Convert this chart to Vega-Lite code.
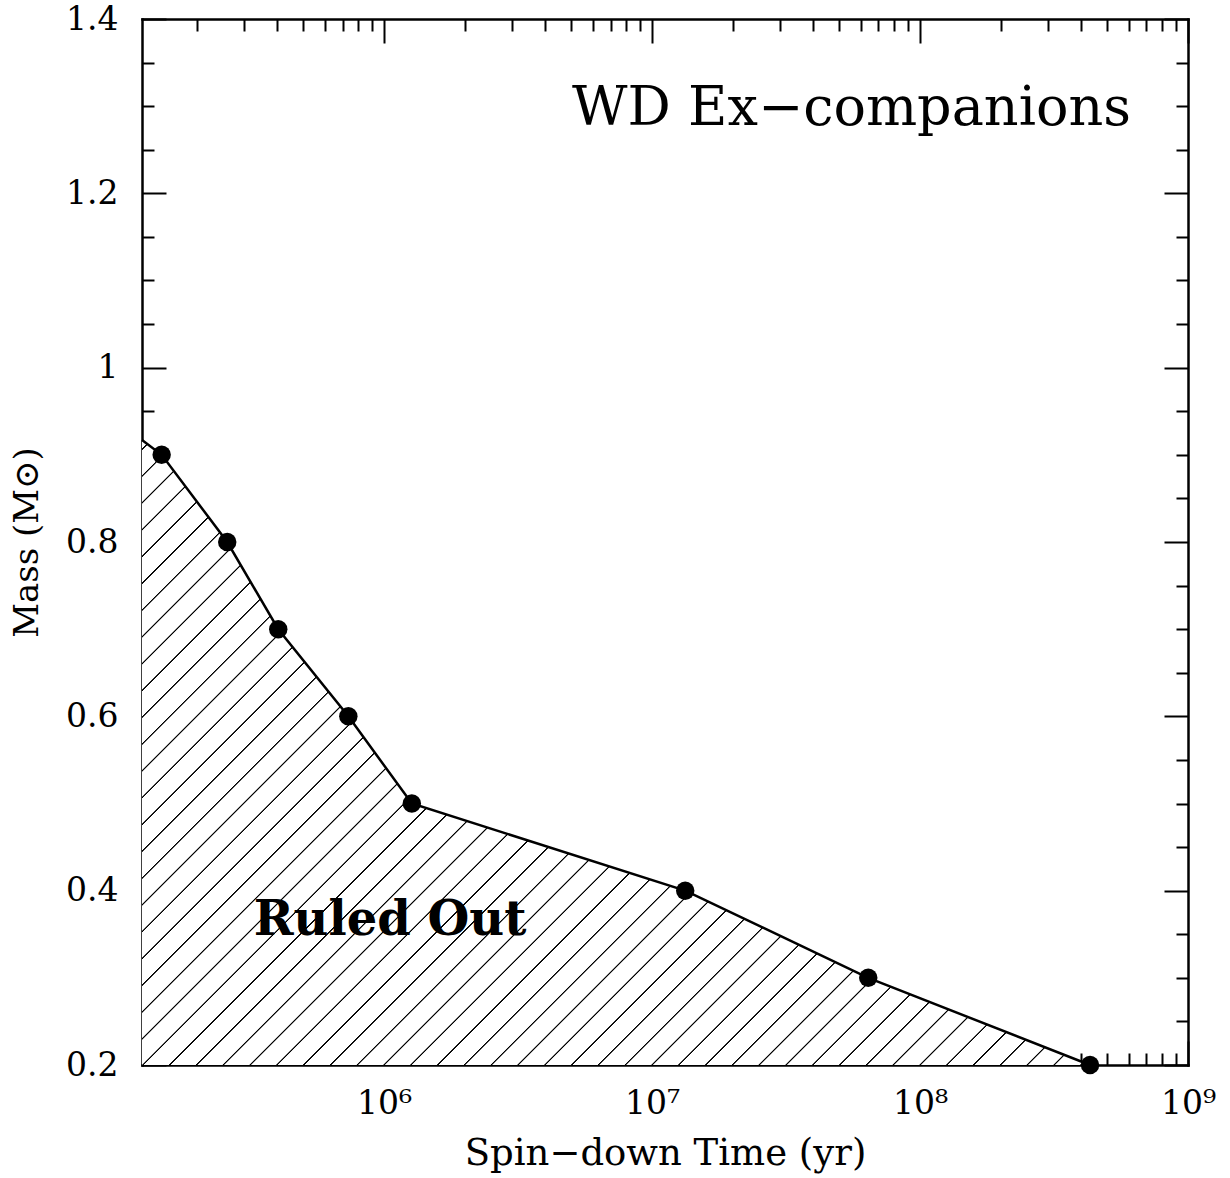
{
  "$schema": "https://vega.github.io/schema/vega-lite/v6.json",
  "autosize": {"type": "none"},
  "padding": {"left": 142, "top": 19, "right": 42, "bottom": 113},
  "width": 1046,
  "height": 1046,
  "background": "white",
  "datasets": {
    "curve": [
      {"time": 125000, "mass": 0.917, "edge": true},
      {"time": 148000, "mass": 0.9, "edge": false},
      {"time": 260000, "mass": 0.8, "edge": false},
      {"time": 403000, "mass": 0.7, "edge": false},
      {"time": 736000, "mass": 0.6, "edge": false},
      {"time": 1270000, "mass": 0.5, "edge": false},
      {"time": 13300000, "mass": 0.4, "edge": false},
      {"time": 64100000, "mass": 0.3, "edge": false},
      {"time": 431000000, "mass": 0.2, "edge": false}
    ]
  },
  "layer": [
    {
      "data": {"name": "curve"},
      "mark": {
        "type": "area",
        "fill": {
          "gradient": "linear",
          "x1": 0, "y1": 0, "x2": 1.1566, "y2": 0.76245,
          "stops": [
            {"offset":0.0052,"color":"#fff"},{"offset":0.0057,"color":"#000"},{"offset":0.0063,"color":"#000"},{"offset":0.0068,"color":"#fff"},
            {"offset":0.0222,"color":"#fff"},{"offset":0.0227,"color":"#000"},{"offset":0.0233,"color":"#000"},{"offset":0.0238,"color":"#fff"},
            {"offset":0.0392,"color":"#fff"},{"offset":0.0397,"color":"#000"},{"offset":0.0403,"color":"#000"},{"offset":0.0408,"color":"#fff"},
            {"offset":0.0563,"color":"#fff"},{"offset":0.0568,"color":"#000"},{"offset":0.0574,"color":"#000"},{"offset":0.0579,"color":"#fff"},
            {"offset":0.0733,"color":"#fff"},{"offset":0.0738,"color":"#000"},{"offset":0.0744,"color":"#000"},{"offset":0.0749,"color":"#fff"},
            {"offset":0.0904,"color":"#fff"},{"offset":0.0909,"color":"#000"},{"offset":0.0915,"color":"#000"},{"offset":0.0920,"color":"#fff"},
            {"offset":0.1074,"color":"#fff"},{"offset":0.1079,"color":"#000"},{"offset":0.1085,"color":"#000"},{"offset":0.1090,"color":"#fff"},
            {"offset":0.1244,"color":"#fff"},{"offset":0.1249,"color":"#000"},{"offset":0.1255,"color":"#000"},{"offset":0.1260,"color":"#fff"},
            {"offset":0.1415,"color":"#fff"},{"offset":0.1420,"color":"#000"},{"offset":0.1426,"color":"#000"},{"offset":0.1431,"color":"#fff"},
            {"offset":0.1585,"color":"#fff"},{"offset":0.1590,"color":"#000"},{"offset":0.1596,"color":"#000"},{"offset":0.1601,"color":"#fff"},
            {"offset":0.1755,"color":"#fff"},{"offset":0.1760,"color":"#000"},{"offset":0.1766,"color":"#000"},{"offset":0.1771,"color":"#fff"},
            {"offset":0.1926,"color":"#fff"},{"offset":0.1931,"color":"#000"},{"offset":0.1937,"color":"#000"},{"offset":0.1942,"color":"#fff"},
            {"offset":0.2096,"color":"#fff"},{"offset":0.2101,"color":"#000"},{"offset":0.2107,"color":"#000"},{"offset":0.2112,"color":"#fff"},
            {"offset":0.2266,"color":"#fff"},{"offset":0.2271,"color":"#000"},{"offset":0.2277,"color":"#000"},{"offset":0.2282,"color":"#fff"},
            {"offset":0.2437,"color":"#fff"},{"offset":0.2442,"color":"#000"},{"offset":0.2448,"color":"#000"},{"offset":0.2453,"color":"#fff"},
            {"offset":0.2607,"color":"#fff"},{"offset":0.2612,"color":"#000"},{"offset":0.2618,"color":"#000"},{"offset":0.2623,"color":"#fff"},
            {"offset":0.2778,"color":"#fff"},{"offset":0.2783,"color":"#000"},{"offset":0.2789,"color":"#000"},{"offset":0.2794,"color":"#fff"},
            {"offset":0.2948,"color":"#fff"},{"offset":0.2953,"color":"#000"},{"offset":0.2959,"color":"#000"},{"offset":0.2964,"color":"#fff"},
            {"offset":0.3118,"color":"#fff"},{"offset":0.3123,"color":"#000"},{"offset":0.3129,"color":"#000"},{"offset":0.3134,"color":"#fff"},
            {"offset":0.3289,"color":"#fff"},{"offset":0.3294,"color":"#000"},{"offset":0.3300,"color":"#000"},{"offset":0.3305,"color":"#fff"},
            {"offset":0.3459,"color":"#fff"},{"offset":0.3464,"color":"#000"},{"offset":0.3470,"color":"#000"},{"offset":0.3475,"color":"#fff"},
            {"offset":0.3629,"color":"#fff"},{"offset":0.3634,"color":"#000"},{"offset":0.3640,"color":"#000"},{"offset":0.3645,"color":"#fff"},
            {"offset":0.3800,"color":"#fff"},{"offset":0.3805,"color":"#000"},{"offset":0.3811,"color":"#000"},{"offset":0.3816,"color":"#fff"},
            {"offset":0.3970,"color":"#fff"},{"offset":0.3975,"color":"#000"},{"offset":0.3981,"color":"#000"},{"offset":0.3986,"color":"#fff"},
            {"offset":0.4140,"color":"#fff"},{"offset":0.4145,"color":"#000"},{"offset":0.4151,"color":"#000"},{"offset":0.4156,"color":"#fff"},
            {"offset":0.4311,"color":"#fff"},{"offset":0.4316,"color":"#000"},{"offset":0.4322,"color":"#000"},{"offset":0.4327,"color":"#fff"},
            {"offset":0.4481,"color":"#fff"},{"offset":0.4486,"color":"#000"},{"offset":0.4492,"color":"#000"},{"offset":0.4497,"color":"#fff"},
            {"offset":0.4652,"color":"#fff"},{"offset":0.4657,"color":"#000"},{"offset":0.4663,"color":"#000"},{"offset":0.4668,"color":"#fff"},
            {"offset":0.4822,"color":"#fff"},{"offset":0.4827,"color":"#000"},{"offset":0.4833,"color":"#000"},{"offset":0.4838,"color":"#fff"},
            {"offset":0.4992,"color":"#fff"},{"offset":0.4997,"color":"#000"},{"offset":0.5003,"color":"#000"},{"offset":0.5008,"color":"#fff"},
            {"offset":0.5163,"color":"#fff"},{"offset":0.5168,"color":"#000"},{"offset":0.5174,"color":"#000"},{"offset":0.5179,"color":"#fff"},
            {"offset":0.5333,"color":"#fff"},{"offset":0.5338,"color":"#000"},{"offset":0.5344,"color":"#000"},{"offset":0.5349,"color":"#fff"},
            {"offset":0.5503,"color":"#fff"},{"offset":0.5508,"color":"#000"},{"offset":0.5514,"color":"#000"},{"offset":0.5519,"color":"#fff"},
            {"offset":0.5674,"color":"#fff"},{"offset":0.5679,"color":"#000"},{"offset":0.5685,"color":"#000"},{"offset":0.5690,"color":"#fff"},
            {"offset":0.5844,"color":"#fff"},{"offset":0.5849,"color":"#000"},{"offset":0.5855,"color":"#000"},{"offset":0.5860,"color":"#fff"},
            {"offset":0.6014,"color":"#fff"},{"offset":0.6019,"color":"#000"},{"offset":0.6025,"color":"#000"},{"offset":0.6030,"color":"#fff"},
            {"offset":0.6185,"color":"#fff"},{"offset":0.6190,"color":"#000"},{"offset":0.6196,"color":"#000"},{"offset":0.6201,"color":"#fff"},
            {"offset":0.6355,"color":"#fff"},{"offset":0.6360,"color":"#000"},{"offset":0.6366,"color":"#000"},{"offset":0.6371,"color":"#fff"},
            {"offset":0.6526,"color":"#fff"},{"offset":0.6531,"color":"#000"},{"offset":0.6537,"color":"#000"},{"offset":0.6542,"color":"#fff"},
            {"offset":0.6696,"color":"#fff"},{"offset":0.6701,"color":"#000"},{"offset":0.6707,"color":"#000"},{"offset":0.6712,"color":"#fff"},
            {"offset":0.6866,"color":"#fff"},{"offset":0.6871,"color":"#000"},{"offset":0.6877,"color":"#000"},{"offset":0.6882,"color":"#fff"},
            {"offset":0.7037,"color":"#fff"},{"offset":0.7042,"color":"#000"},{"offset":0.7048,"color":"#000"},{"offset":0.7053,"color":"#fff"},
            {"offset":0.7207,"color":"#fff"},{"offset":0.7212,"color":"#000"},{"offset":0.7218,"color":"#000"},{"offset":0.7223,"color":"#fff"},
            {"offset":0.7377,"color":"#fff"},{"offset":0.7382,"color":"#000"},{"offset":0.7388,"color":"#000"},{"offset":0.7393,"color":"#fff"},
            {"offset":0.7548,"color":"#fff"},{"offset":0.7553,"color":"#000"},{"offset":0.7559,"color":"#000"},{"offset":0.7564,"color":"#fff"},
            {"offset":0.7718,"color":"#fff"},{"offset":0.7723,"color":"#000"},{"offset":0.7729,"color":"#000"},{"offset":0.7734,"color":"#fff"},
            {"offset":0.7888,"color":"#fff"},{"offset":0.7893,"color":"#000"},{"offset":0.7899,"color":"#000"},{"offset":0.7904,"color":"#fff"},
            {"offset":0.8059,"color":"#fff"},{"offset":0.8064,"color":"#000"},{"offset":0.8070,"color":"#000"},{"offset":0.8075,"color":"#fff"},
            {"offset":0.8229,"color":"#fff"},{"offset":0.8234,"color":"#000"},{"offset":0.8240,"color":"#000"},{"offset":0.8245,"color":"#fff"},
            {"offset":0.8400,"color":"#fff"},{"offset":0.8405,"color":"#000"},{"offset":0.8411,"color":"#000"},{"offset":0.8416,"color":"#fff"},
            {"offset":0.8570,"color":"#fff"},{"offset":0.8575,"color":"#000"},{"offset":0.8581,"color":"#000"},{"offset":0.8586,"color":"#fff"},
            {"offset":0.8740,"color":"#fff"},{"offset":0.8745,"color":"#000"},{"offset":0.8751,"color":"#000"},{"offset":0.8756,"color":"#fff"},
            {"offset":0.8911,"color":"#fff"},{"offset":0.8916,"color":"#000"},{"offset":0.8922,"color":"#000"},{"offset":0.8927,"color":"#fff"},
            {"offset":0.9081,"color":"#fff"},{"offset":0.9086,"color":"#000"},{"offset":0.9092,"color":"#000"},{"offset":0.9097,"color":"#fff"},
            {"offset":0.9251,"color":"#fff"},{"offset":0.9256,"color":"#000"},{"offset":0.9262,"color":"#000"},{"offset":0.9267,"color":"#fff"},
            {"offset":0.9422,"color":"#fff"},{"offset":0.9427,"color":"#000"},{"offset":0.9433,"color":"#000"},{"offset":0.9438,"color":"#fff"},
            {"offset":0.9592,"color":"#fff"},{"offset":0.9597,"color":"#000"},{"offset":0.9603,"color":"#000"},{"offset":0.9608,"color":"#fff"},
            {"offset":0.9763,"color":"#fff"},{"offset":0.9768,"color":"#000"},{"offset":0.9774,"color":"#000"},{"offset":0.9779,"color":"#fff"},
            {"offset":0.9933,"color":"#fff"},{"offset":0.9938,"color":"#000"},{"offset":0.9944,"color":"#000"},{"offset":0.9949,"color":"#fff"}
          ]
        }
      },
      "encoding": {
        "x": {
          "field": "time", "type": "quantitative",
          "scale": {"type": "log", "domain": [125000, 1000000000], "nice": false},
          "axis": {
            "orient": "bottom",
            "values": [1000000, 10000000, 100000000, 1000000000],
            "tickSize": -24,
            "labelPadding": 72,
            "labelBaseline": "alphabetic",
            "labelFlush": false,
            "labelOverlap": false,
            "labelExpr": "'10' + ['⁰','¹','²','³','⁴','⁵','⁶','⁷','⁸','⁹'][round(log(datum.value) / LN10)]",
            "title": "Spin−down Time (yr)",
            "titleFontSize": 37,
            "titleY": 99,
            "titleBaseline": "alphabetic"
          }
        },
        "y": {
          "field": "mass", "type": "quantitative",
          "scale": {"domain": [0.2, 1.4], "zero": false, "nice": false},
          "axis": {
            "orient": "left",
            "values": [0.2, 0.4, 0.6, 0.8, 1, 1.2, 1.4],
            "format": "~g",
            "tickSize": -24,
            "labelPadding": 48,
            "labelFlush": false,
            "labelOverlap": false,
            "title": "Mass (M⊙)",
            "titleAngle": 270,
            "titleX": -105,
            "titleBaseline": "alphabetic"
          }
        },
        "y2": {"datum": 0.2}
      }
    },
    {
      "data": {"name": "curve"},
      "mark": {"type": "line", "color": "black", "strokeWidth": 2.5},
      "encoding": {
        "x": {
          "field": "time", "type": "quantitative",
          "scale": {"type": "log", "domain": [125000, 1000000000], "nice": false},
          "axis": {
            "orient": "bottom",
            "values": [200000, 300000, 400000, 500000, 600000, 700000, 800000, 900000,
                       2000000, 3000000, 4000000, 5000000, 6000000, 7000000, 8000000, 9000000,
                       20000000, 30000000, 40000000, 50000000, 60000000, 70000000, 80000000, 90000000,
                       200000000, 300000000, 400000000, 500000000, 600000000, 700000000, 800000000, 900000000],
            "tickSize": -12, "labels": false, "domain": false, "title": null
          }
        },
        "y": {
          "field": "mass", "type": "quantitative",
          "scale": {"domain": [0.2, 1.4], "zero": false, "nice": false},
          "axis": {
            "orient": "left",
            "values": [0.25, 0.3, 0.35, 0.45, 0.5, 0.55, 0.65, 0.7, 0.75, 0.85, 0.9, 0.95, 1.05, 1.1, 1.15, 1.25, 1.3, 1.35],
            "tickSize": -12, "labels": false, "domain": false, "title": null
          }
        }
      }
    },
    {
      "data": {"name": "curve"},
      "transform": [{"filter": "!datum.edge"}],
      "mark": {"type": "point", "shape": "circle", "filled": true, "size": 340, "color": "black", "opacity": 1},
      "encoding": {
        "x": {
          "field": "time", "type": "quantitative",
          "scale": {"type": "log", "domain": [125000, 1000000000], "nice": false},
          "axis": {
            "orient": "top",
            "values": [1000000, 10000000, 100000000, 1000000000],
            "tickSize": -24, "labels": false, "title": null
          }
        },
        "y": {
          "field": "mass", "type": "quantitative",
          "scale": {"domain": [0.2, 1.4], "zero": false, "nice": false},
          "axis": {
            "orient": "right",
            "values": [0.2, 0.4, 0.6, 0.8, 1, 1.2, 1.4],
            "tickSize": -24, "labels": false, "title": null
          }
        }
      }
    },
    {
      "data": {"values": [{"time": 55500000, "mass": 1.278, "label": "WD Ex−companions"}]},
      "mark": {"type": "text", "font": "DejaVu Serif", "fontSize": 54, "align": "center", "baseline": "alphabetic", "color": "black"},
      "encoding": {
        "x": {
          "field": "time", "type": "quantitative",
          "scale": {"type": "log", "domain": [125000, 1000000000], "nice": false},
          "axis": {
            "orient": "top",
            "values": [200000, 300000, 400000, 500000, 600000, 700000, 800000, 900000,
                       2000000, 3000000, 4000000, 5000000, 6000000, 7000000, 8000000, 9000000,
                       20000000, 30000000, 40000000, 50000000, 60000000, 70000000, 80000000, 90000000,
                       200000000, 300000000, 400000000, 500000000, 600000000, 700000000, 800000000, 900000000],
            "tickSize": -12, "labels": false, "domain": false, "title": null
          }
        },
        "y": {
          "field": "mass", "type": "quantitative",
          "scale": {"domain": [0.2, 1.4], "zero": false, "nice": false},
          "axis": {
            "orient": "right",
            "values": [0.25, 0.3, 0.35, 0.45, 0.5, 0.55, 0.65, 0.7, 0.75, 0.85, 0.9, 0.95, 1.05, 1.1, 1.15, 1.25, 1.3, 1.35],
            "tickSize": -12, "labels": false, "domain": false, "title": null
          }
        },
        "text": {"field": "label"}
      }
    },
    {
      "data": {"values": [{"time": 1053000, "mass": 0.349, "label": "Ruled Out"}]},
      "mark": {"type": "text", "font": "DejaVu Serif", "fontSize": 48, "fontWeight": "bold", "align": "center", "baseline": "alphabetic", "color": "black"},
      "encoding": {
        "x": {
          "field": "time", "type": "quantitative",
          "scale": {"type": "log", "domain": [125000, 1000000000], "nice": false},
          "axis": null
        },
        "y": {
          "field": "mass", "type": "quantitative",
          "scale": {"domain": [0.2, 1.4], "zero": false, "nice": false},
          "axis": null
        },
        "text": {"field": "label"}
      }
    }
  ],
  "resolve": {"axis": {"x": "independent", "y": "independent"}},
  "config": {
    "view": {"stroke": null},
    "axis": {
      "grid": false,
      "zindex": 1,
      "domain": true,
      "domainColor": "black",
      "domainWidth": 2.5,
      "domainCap": "square",
      "tickColor": "black",
      "tickWidth": 2,
      "labelFont": "DejaVu Serif",
      "labelFontSize": 33,
      "labelColor": "black",
      "titleFont": "DejaVu Serif",
      "titleFontSize": 34,
      "titleFontWeight": "normal",
      "titleColor": "black"
    }
  }
}
